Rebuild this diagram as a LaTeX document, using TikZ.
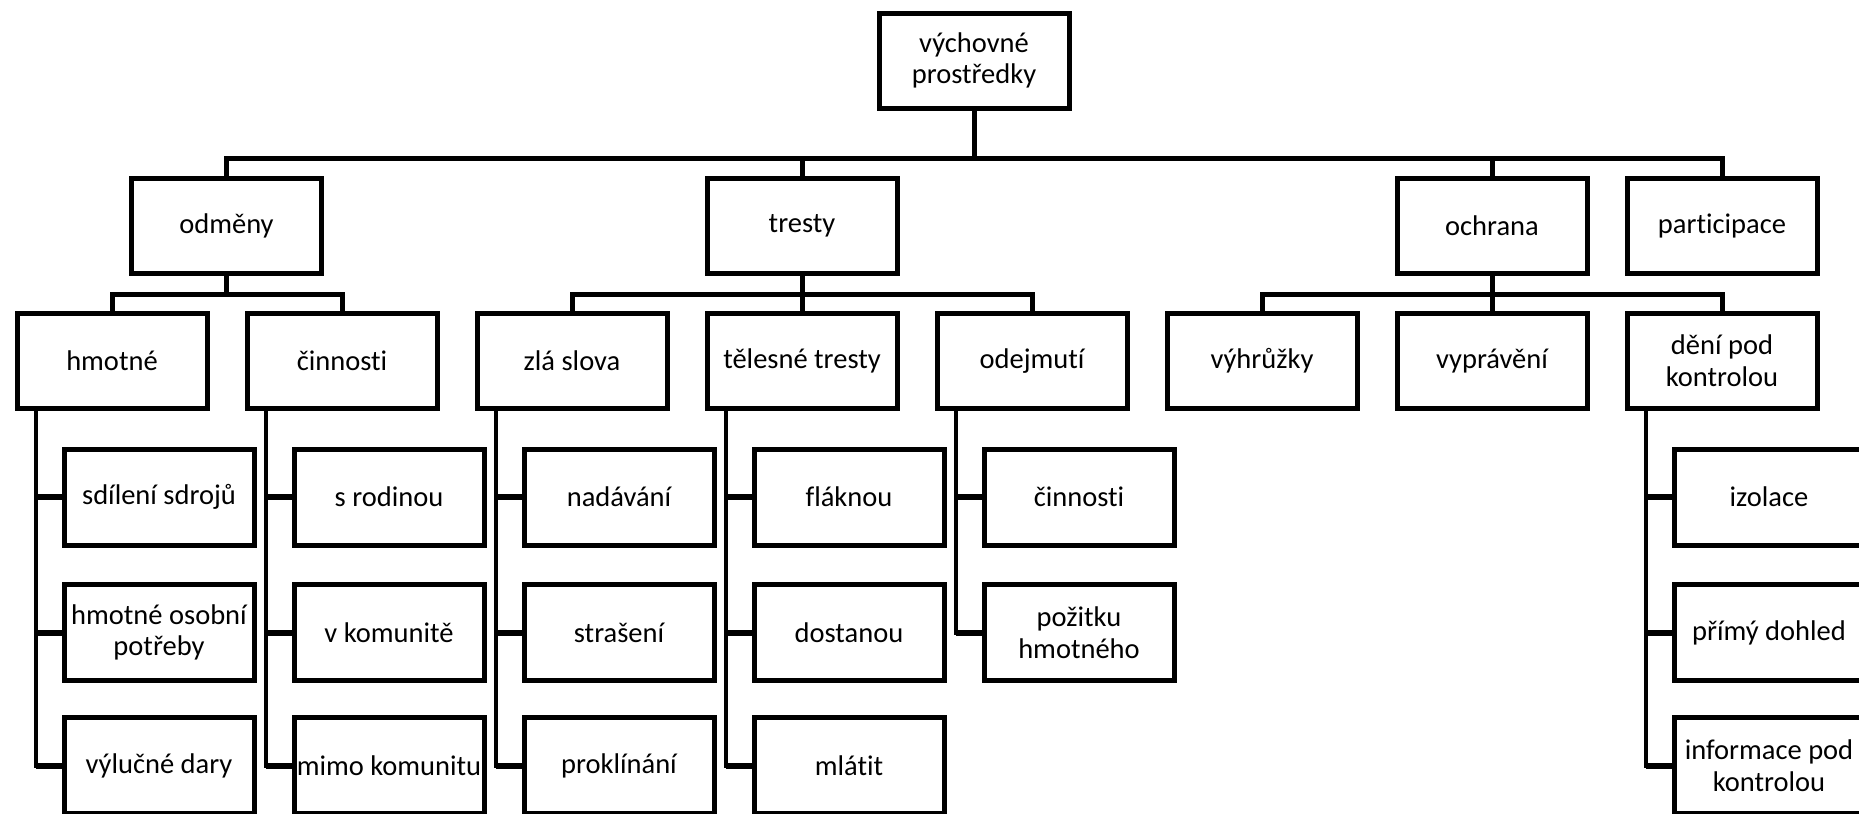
\documentclass[tikz,border=0pt]{standalone}
\usepackage{fontspec}
\setmainfont{Carlito}[Ligatures=NoCommon]
\begin{document}
\begin{tikzpicture}[x=0.5pt,y=-0.5pt,
  box/.style={draw, line width=2.5pt, fill=white, inner sep=0pt,
    minimum width=95pt, minimum height=47.5pt, align=center,
    font=\fontsize{14.25}{15.8}\selectfont},
  leaf/.style={box, minimum height=48pt},
  conn/.style={line width=2.5pt, line join=miter},
  trunk/.style={line width=2.2pt, line join=miter},
  tick/.style={line width=3pt}]
\fill[white] (0,0) rectangle (1859,814);
\clip (0,0) rectangle (1859,814);

% top of the hierarchy
\node[box] (root) at (974,60.5) {výchovné\\prostředky};
\node[box] (od) at (226.5,226) {odměny};
\node[box] (tr) at (802,226) {tresty};
\node[box] (oc) at (1492,226) {ochrana};
\node[box] (pa) at (1722,226) {participace};

% second level
\node[box] (hm) at (112,361) {hmotné};
\node[box] (ci) at (342,361) {činnosti};
\node[box] (zl) at (572,361) {zlá slova};
\node[box] (te) at (802,361) {tělesné tresty};
\node[box] (oj) at (1032,361) {odejmutí};
\node[box] (vh) at (1262,361) {výhrůžky};
\node[box] (vy) at (1492,361) {vyprávění};
\node[box] (de) at (1722,361) {dění pod\\kontrolou};

% third level, listed under their parents
\node[leaf] (hm1) at (159,497) {sdílení sdrojů};
\node[leaf] (hm2) at (159,632.5) {hmotné osobní\\potřeby};
\node[leaf] (hm3) at (159,765.5) {výlučné dary};
\node[leaf] (ci1) at (389,497) {s rodinou};
\node[leaf] (ci2) at (389,632.5) {v komunitě};
\node[leaf] (ci3) at (389,765.5) {mimo komunitu};
\node[leaf] (zl1) at (619,497) {nadávání};
\node[leaf] (zl2) at (619,632.5) {strašení};
\node[leaf] (zl3) at (619,765.5) {proklínání};
\node[leaf] (te1) at (849,497) {fláknou};
\node[leaf] (te2) at (849,632.5) {dostanou};
\node[leaf] (te3) at (849,765.5) {mlátit};
\node[leaf] (oj1) at (1079,497) {činnosti};
\node[leaf] (oj2) at (1079,632.5) {požitku\\hmotného};
\node[leaf] (de1) at (1769,497) {izolace};
\node[leaf] (de2) at (1769,632.5) {přímý dohled};
\node[leaf] (de3) at (1769,765.5) {informace pod\\kontrolou};

% main bus
\coordinate (bus) at (974,158);
\draw[conn] (root.south) -- (bus);
\draw[conn] (od.north) |- (bus) -| (pa.north);
\draw[conn] (tr.north) -- (tr.north |- bus);
\draw[conn] (oc.north) -- (oc.north |- bus);

% second-level buses
\coordinate (odb) at (226.5,294);
\draw[conn] (od.south) -- (odb);
\draw[conn] (hm.north) |- (odb) -| (ci.north);
\coordinate (trb) at (802,294);
\draw[conn] (tr.south) -- (trb);
\draw[conn] (zl.north) |- (trb) -| (oj.north);
\draw[conn] (te.north) -- (trb);
\coordinate (ocb) at (1492,294);
\draw[conn] (oc.south) -- (ocb);
\draw[conn] (vh.north) |- (ocb) -| (de.north);
\draw[conn] (vy.north) -- (ocb);

% vertical trunks with ticks into each listed box
\coordinate (hmT) at (36,0);
\coordinate (ciT) at (266,0);
\coordinate (zlT) at (496,0);
\coordinate (teT) at (726,0);
\coordinate (ojT) at (956,0);
\coordinate (deT) at (1646,0);
\foreach \p/\last in {hm/3, ci/3, zl/3, te/3, oj/2, de/3}{
  \draw[trunk] (\p.south -| \p T) |- (\p\last.west);
  \foreach \k in {1,...,\last}{
    \draw[tick] (\p T |- \p\k.west) -- (\p\k.west);
  }
}
\end{tikzpicture}
\end{document}
